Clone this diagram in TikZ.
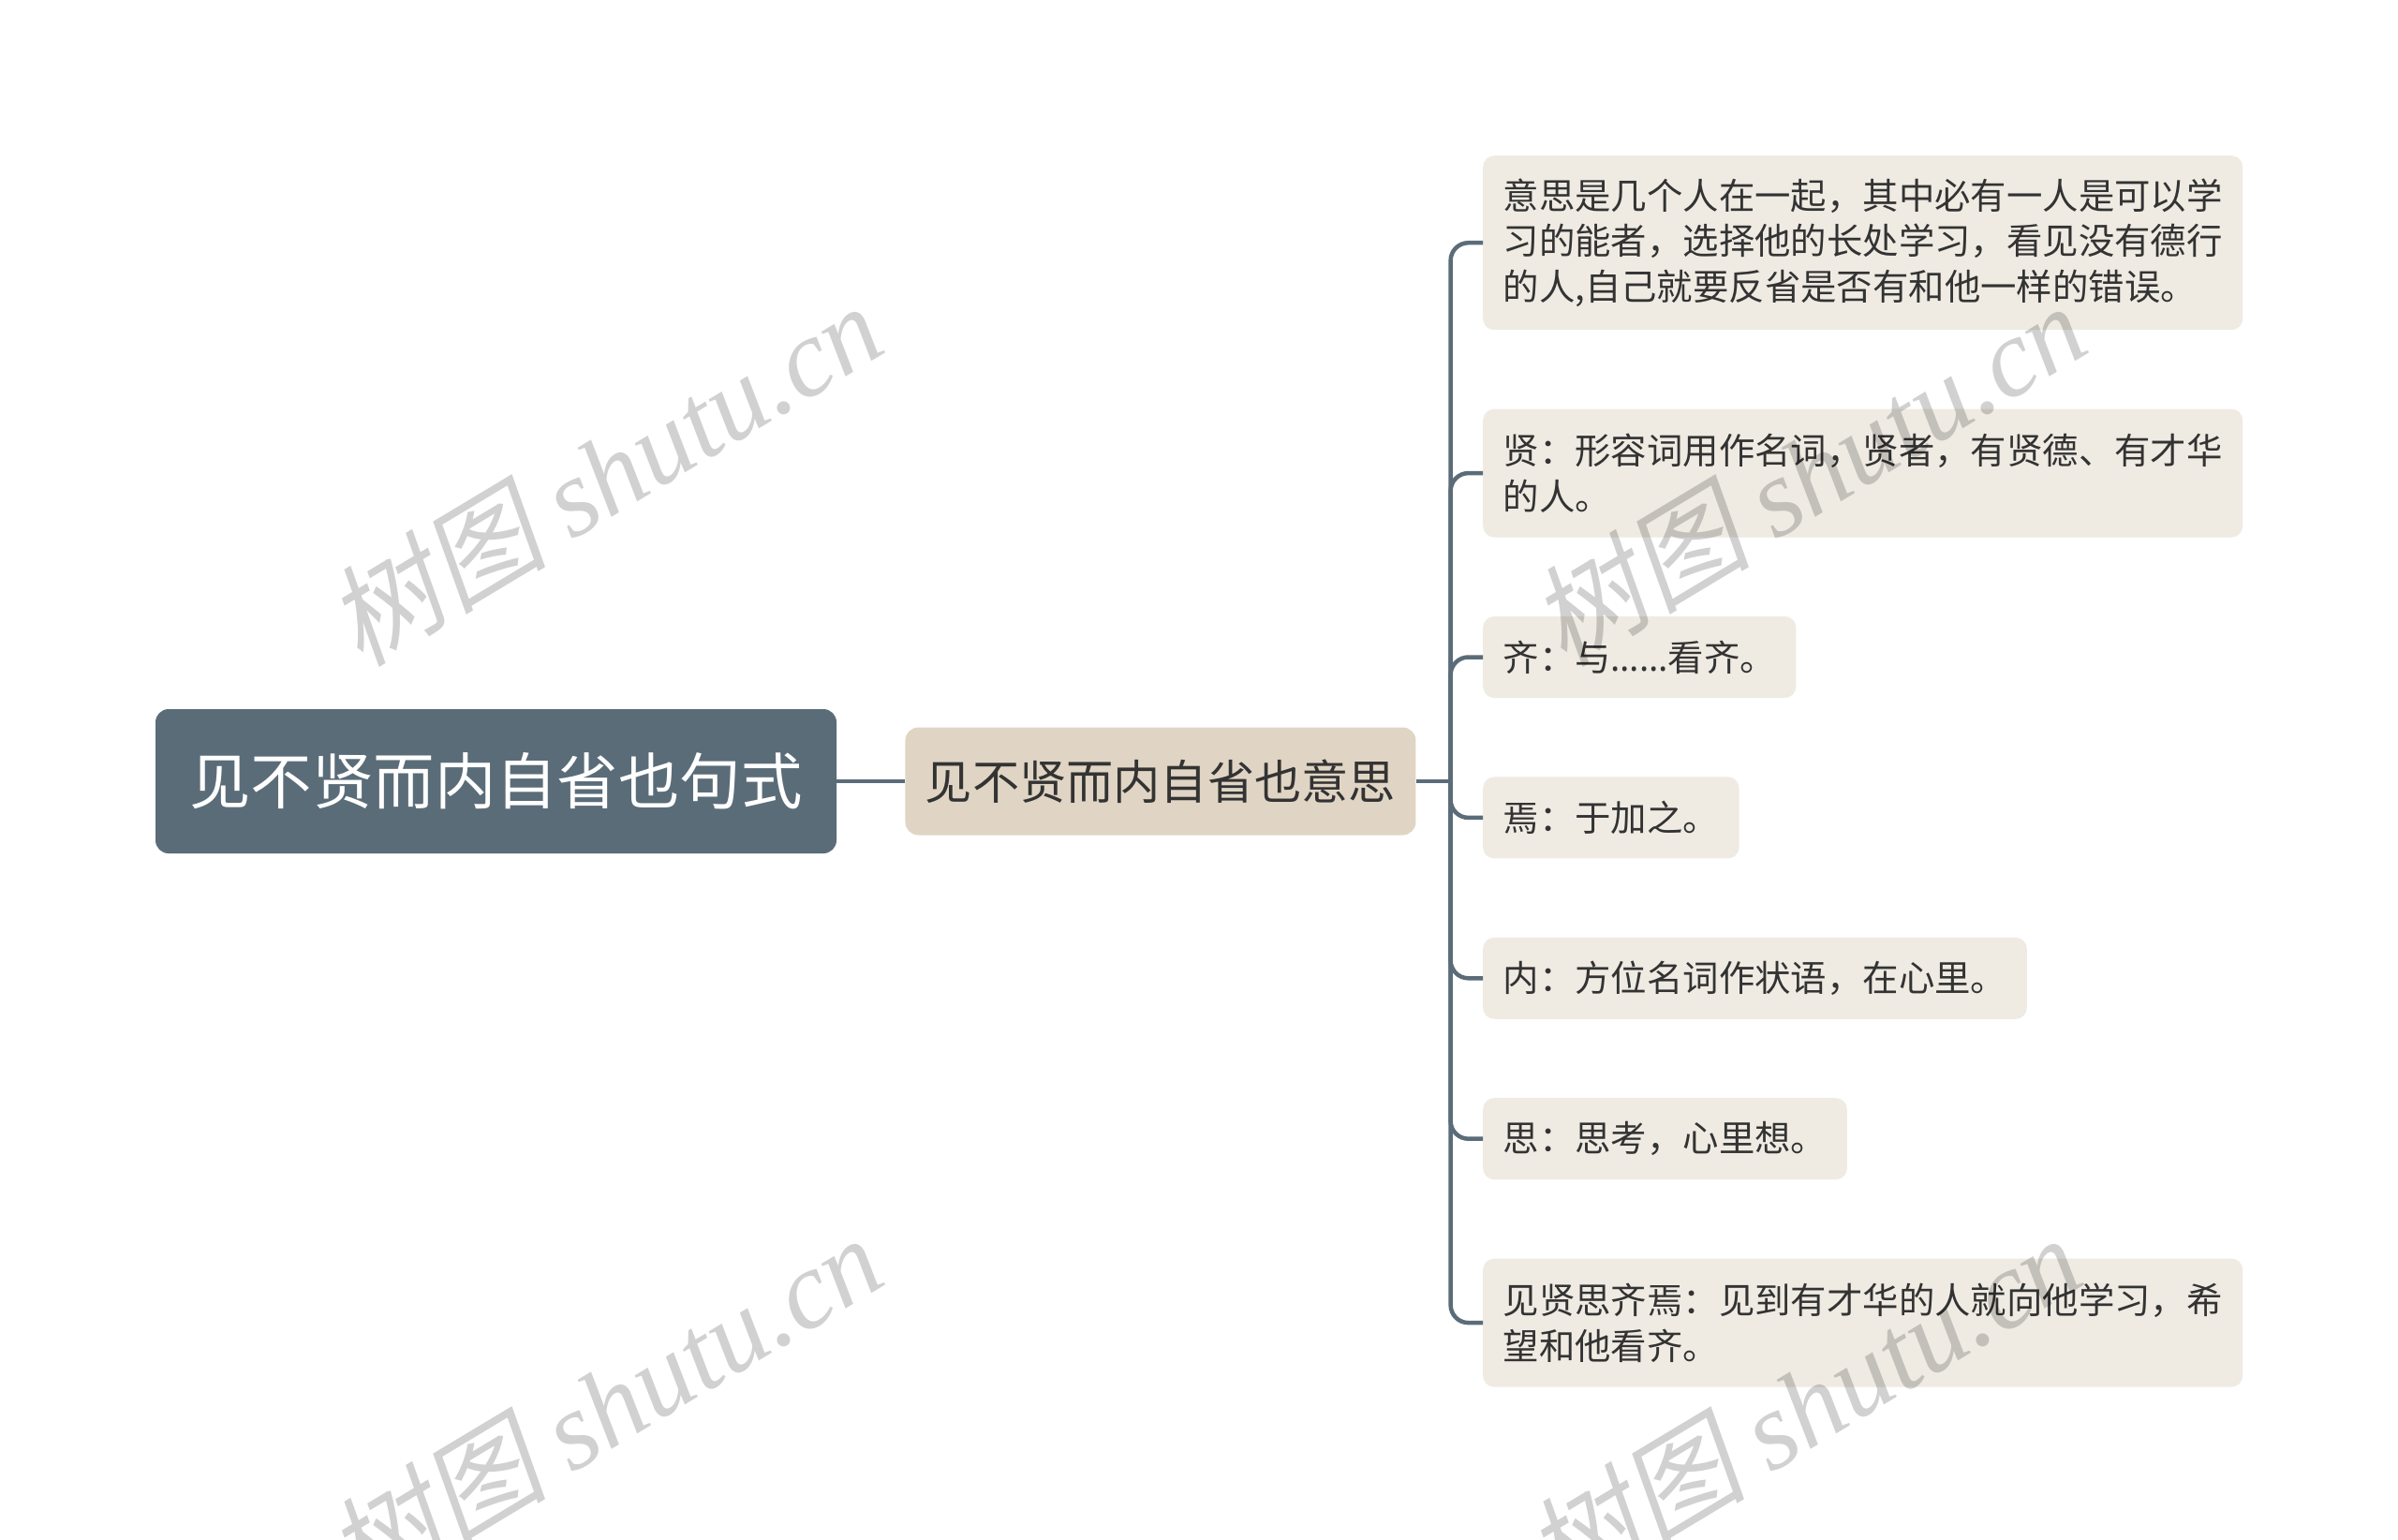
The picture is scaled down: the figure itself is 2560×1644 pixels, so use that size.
\documentclass[tikz,border=0pt]{standalone}
\usepackage{fontspec}
\setmainfont{Noto Sans CJK SC}
\newfontfamily\dotsfont{Noto Sans}
\newfontfamily\wmcjk[FakeSlant=0.2]{Noto Sans CJK SC}
\newfontfamily\wmlatin{Liberation Serif}
\usetikzlibrary{positioning}
\definecolor{slate}{HTML}{5B6C79}
\definecolor{sand}{HTML}{E0D5C4}
\definecolor{paper}{HTML}{EFEBE3}
\definecolor{ink}{HTML}{333333}
\tikzset{
  rootbox/.style={fill=slate, text=white, rounded corners=14pt, minimum width=727pt,
    minimum height=154pt, inner sep=0pt, font=\fontsize{65.4}{78}\selectfont},
  midbox/.style={fill=sand, text=ink, rounded corners=14pt, minimum width=545pt,
    minimum height=115pt, inner sep=0pt, font=\fontsize{50.2}{60}\selectfont},
  leaf/.style={fill=paper, text=ink, rounded corners=12pt, inner xsep=21.5pt, inner ysep=0pt,
    minimum height=87pt, anchor=north west, align=left, font=\fontsize{38.4}{48.5}\selectfont},
  wide/.style={text width=768pt},
  link/.style={draw=slate, line width=4.5pt, rounded corners=19pt},
  wmark/.style={text=black, text opacity=0.18, rotate=31, font=\fontsize{118}{118}\selectfont}
}
\begin{document}
\begin{tikzpicture}[x=1pt, y=-1pt, node distance=84pt]
\useasboundingbox [fill=white] (0,0) rectangle (2560,1644);

\node (root) [rootbox] at (529.5,834) {见不贤而内自省也句式};
\node (mid) [midbox, right=73pt of root] {见不贤而内自省也意思};
\coordinate [right=37pt of mid] (fork);

\node (l1) [leaf, wide, minimum height=186pt] at (1583,166) {意思是几个人在一起，其中必有一人是可以学\\
习的能者，选择他的长处学习，看见没有德行\\
的人,自己就要反省是否有和他一样的错误。};
\node (l2) [leaf, wide, minimum height=137pt, below=of l1.south west, anchor=north west] {贤：形容词用作名词，贤者，有贤德、有才华\\
的人。};
\node (l3) [leaf, below=of l2.south west, anchor=north west] {齐：与{\dotsfont ……}看齐。};
\node (l4) [leaf, below=of l3.south west, anchor=north west] {焉：于加之。};
\node (l5) [leaf, below=of l4.south west, anchor=north west] {内：方位名词作状语，在心里。};
\node (l6) [leaf, below=of l5.south west, anchor=north west] {思：思考，心里想。};
\node (l7) [leaf, wide, minimum height=137pt, below=of l6.south west, anchor=north west] {见贤思齐焉：见到有才华的人就向他学习，希\\
望和他看齐。};

\draw [link] (root) -- (mid);
\draw [link] (mid) -- (fork);
\foreach \i in {1,...,7}
  \draw [link] (fork) |- (l\i.west);

% watermark
\foreach \wx/\wy [count=\k] in {645/505, 1930/505, 645/1500, 1925/1500}
  \node (wm\k) [wmark] at (\wx,\wy) {{\wmcjk 树图} {\wmlatin\itshape shutu.cn}};
\end{tikzpicture}
\end{document}
